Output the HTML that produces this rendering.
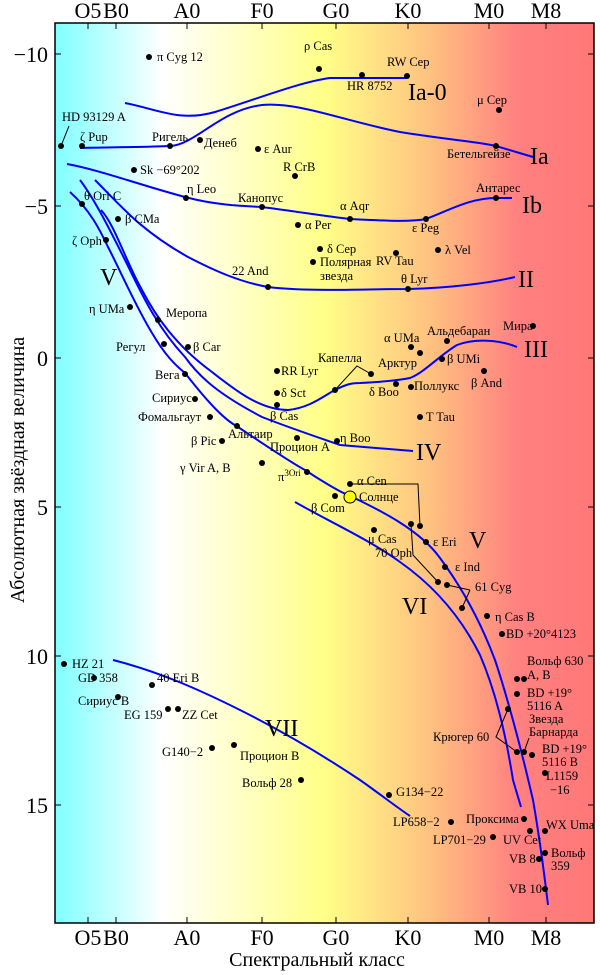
<!DOCTYPE html>
<html><head><meta charset="utf-8"><style>
html,body{margin:0;padding:0;background:#fff}
svg{display:block}
text{font-family:"Liberation Serif",serif;fill:#000}
.s{font-size:12.5px}
.L{font-size:24px}
.t{font-size:22px}
.a{font-size:20px}
</style></head><body>
<svg width="600" height="975" viewBox="0 0 600 975" xmlns="http://www.w3.org/2000/svg">
<defs>
<linearGradient id="g" x1="55" x2="594" y1="0" y2="0" gradientUnits="userSpaceOnUse">
<stop offset="0" stop-color="#80ffff"/>
<stop offset="0.2" stop-color="#ffffff"/>
<stop offset="0.5" stop-color="#ffff88"/>
<stop offset="0.7" stop-color="#ffc080"/>
<stop offset="0.86" stop-color="#ff8080"/>
<stop offset="1" stop-color="#ff7878"/>
</linearGradient>
</defs>
<rect x="55" y="23" width="539" height="900" fill="url(#g)"/>
<g fill="none" stroke="#0000ff" stroke-width="2">
<path d="M125,103 C160,110 180,122 215,112 C260,98 300,82 330,78 L407,78"/>
<path d="M80,148 C120,147 150,147 170,146 C195,145 220,110 262,105 C300,102 340,120 400,132 C450,140 480,142 496,146 L533,157"/>
<path d="M67,164 C100,170 140,185 185,197 C215,205 240,206 262,207 C300,212 330,217 350,219 C390,221 410,222 426,219 C450,210 470,198 496,198 L512,198"/>
<path d="M95,180 C120,205 140,230 188,257 C215,271 240,282 268,287 C310,292 360,289 408,289 C450,288 490,283 515,277"/>
<path d="M101,210 C115,225 125,260 142,290 C155,315 175,345 212,372 C235,390 260,410 288,410 C310,408 325,395 335,390 C345,385 350,383 360,383 C380,382 400,380 410,378 C425,372 440,355 457,345 C475,338 500,340 517,347"/>
<path d="M80,180 C95,200 110,230 125,260 C140,290 155,325 185,357 C200,378 220,395 262,417 C290,428 320,438 340,445 L413,451"/>
<path d="M70,192 C90,210 100,230 108,247 C120,270 135,305 152,333 C165,355 175,365 185,373 C210,405 225,420 238,427 C265,445 290,462 305,470 C320,480 340,492 348,495 C380,510 420,530 440,558 C460,585 480,620 495,660 C510,705 525,765 533,800 C540,840 545,880 548,905"/>
<path d="M295,502 C330,522 370,540 400,562 C440,590 465,625 480,655 C495,690 505,730 513,780 L521,807"/>
<path d="M113,660 C160,672 200,690 240,710 C290,735 330,760 360,780 C380,794 395,806 410,816"/>
</g>
<g fill="none" stroke="#000" stroke-width="1">
<path d="M61,146 L69,126"/>
<path d="M335,390 L357,366 L371,374"/>
<path d="M350,484 L418,484 L420,526"/>
<path d="M411,524 L413,555 L438,582"/>
<path d="M447,585 L470,590 M470,590 L462,608"/>
<path d="M508,709 L496,737 L517,752 M524,752 L529,738"/>
<rect x="55" y="23" width="539" height="900" stroke-width="1.5"/>
<path d="M88,23v6M116,23v6M187,23v6M262,23v6M336,23v6M408,23v6M489,23v6M546,23v6M88,923v-6M116,923v-6M187,923v-6M262,923v-6M336,923v-6M408,923v-6M489,923v-6M546,923v-6"/>
<path d="M55,54h6M55,206h6M55,358h6M55,507h6M55,656h6M55,805h6M594,54h-6M594,206h-6M594,358h-6M594,507h-6M594,656h-6M594,805h-6"/>
</g>
<g fill="#000">
<circle cx="149" cy="57" r="3"/><circle cx="319" cy="69" r="3"/><circle cx="362" cy="75" r="3"/><circle cx="407" cy="76" r="3"/>
<circle cx="499" cy="110" r="3"/><circle cx="61" cy="146" r="3"/><circle cx="82" cy="146" r="3"/><circle cx="170" cy="146" r="3"/>
<circle cx="200" cy="140" r="3"/><circle cx="258" cy="149" r="3"/><circle cx="295" cy="176" r="3"/><circle cx="496" cy="146" r="3"/>
<circle cx="134" cy="170" r="3"/><circle cx="186" cy="198" r="3"/><circle cx="262" cy="207" r="3"/><circle cx="350" cy="219" r="3"/>
<circle cx="426" cy="219" r="3"/><circle cx="496" cy="198" r="3"/><circle cx="82" cy="204" r="3"/><circle cx="118" cy="219" r="3"/>
<circle cx="106" cy="240" r="3"/><circle cx="298" cy="225" r="3"/><circle cx="320" cy="249" r="3"/><circle cx="313" cy="262" r="3"/>
<circle cx="396" cy="253" r="3"/><circle cx="438" cy="250" r="3"/><circle cx="268" cy="287" r="3"/><circle cx="408" cy="289" r="3"/>
<circle cx="130" cy="307" r="3"/><circle cx="158" cy="320" r="3"/><circle cx="164" cy="344" r="3"/><circle cx="188" cy="347" r="3"/>
<circle cx="411" cy="347" r="3"/><circle cx="420" cy="353" r="3"/><circle cx="447" cy="341" r="3"/><circle cx="533" cy="326" r="3"/>
<circle cx="442" cy="359" r="3"/><circle cx="484" cy="371" r="3"/><circle cx="185" cy="374" r="3"/><circle cx="277" cy="371" r="3"/>
<circle cx="335" cy="390" r="3"/><circle cx="371" cy="374" r="3"/><circle cx="396" cy="384" r="3"/><circle cx="411" cy="387" r="3"/>
<circle cx="277" cy="393" r="3"/><circle cx="195" cy="399" r="3"/><circle cx="210" cy="417" r="3"/><circle cx="277" cy="405" r="3"/>
<circle cx="420" cy="417" r="3"/><circle cx="237" cy="426" r="3"/><circle cx="222" cy="441" r="3"/><circle cx="297" cy="438" r="3"/>
<circle cx="337" cy="441" r="3"/><circle cx="262" cy="463" r="3"/><circle cx="307" cy="472" r="3"/><circle cx="350" cy="484" r="3"/>
<circle cx="335" cy="496" r="3"/><circle cx="374" cy="530" r="3"/><circle cx="411" cy="524" r="3"/><circle cx="420" cy="526" r="3"/>
<circle cx="426" cy="542" r="3"/><circle cx="445" cy="567" r="3"/><circle cx="438" cy="582" r="3"/><circle cx="447" cy="585" r="3"/>
<circle cx="462" cy="608" r="3"/><circle cx="487" cy="616" r="3"/><circle cx="502" cy="634" r="3"/>
<circle cx="64" cy="664" r="3"/><circle cx="94" cy="678" r="3"/><circle cx="152" cy="685" r="3"/><circle cx="118" cy="697" r="3"/>
<circle cx="168" cy="709" r="3"/><circle cx="178" cy="709" r="3"/><circle cx="212" cy="748" r="3"/><circle cx="234" cy="745" r="3"/>
<circle cx="301" cy="780" r="3"/><circle cx="389" cy="795" r="3"/><circle cx="451" cy="822" r="3"/><circle cx="493" cy="837" r="3"/>
<circle cx="524" cy="819" r="3"/><circle cx="530" cy="831" r="3"/><circle cx="545" cy="831" r="3"/><circle cx="545" cy="853" r="3"/>
<circle cx="539" cy="859" r="3"/><circle cx="545" cy="889" r="3"/><circle cx="517" cy="679" r="3"/><circle cx="524" cy="679" r="3"/>
<circle cx="517" cy="694" r="3"/><circle cx="508" cy="709" r="3"/><circle cx="517" cy="752" r="3"/><circle cx="524" cy="752" r="3"/>
<circle cx="532" cy="755" r="3"/><circle cx="545" cy="773" r="3"/>
</g>
<circle cx="350" cy="497" r="6" fill="#ffff00" stroke="#000" stroke-width="1"/>
<g class="s">
<text x="157" y="61">π Cyg 12</text><text x="304" y="50">ρ Cas</text><text x="387" y="66">RW Cep</text><text x="347" y="90">HR 8752</text>
<text x="477" y="104">μ Cep</text><text x="62" y="121">HD 93129 A</text><text x="80" y="141">ζ Pup</text><text x="152" y="141">Ригель</text>
<text x="204" y="147">Денеб</text><text x="264" y="153">ε Aur</text><text x="283" y="171">R CrB</text><text x="447" y="158">Бетельгейзе</text>
<text x="140" y="174">Sk −69°202</text><text x="187" y="193">η Leo</text><text x="238" y="202">Канопус</text><text x="340" y="210">α Aqr</text>
<text x="412" y="232">ε Peg</text><text x="476" y="192">Антарес</text><text x="84" y="200">θ Ori C</text><text x="125" y="223">β CMa</text>
<text x="72" y="245">ζ Oph</text><text x="305" y="229">α Per</text><text x="327" y="253">δ Cep</text><text x="320" y="266">Полярная</text><text x="320" y="280">звезда</text>
<text x="376" y="265">RV Tau</text><text x="445" y="254">λ Vel</text><text x="232" y="275">22 And</text><text x="401" y="283">θ Lyr</text>
<text x="89" y="313">η UMa</text><text x="166" y="317">Меропа</text><text x="116" y="351">Регул</text><text x="193" y="351">β Car</text>
<text x="384" y="342">α UMa</text><text x="427" y="335">Альдебаран</text><text x="503" y="330">Мира</text><text x="447" y="363">β UMi</text>
<text x="471" y="387">β And</text><text x="155" y="379">Вега</text><text x="281" y="375">RR Lyr</text><text x="318" y="362">Капелла</text>
<text x="378" y="367">Арктур</text><text x="369" y="396">δ Boo</text><text x="414" y="390">Поллукс</text><text x="281" y="397">δ Sct</text>
<text x="152" y="402">Сириус</text><text x="138" y="421">Фомальгаут</text><text x="270" y="420">β Cas</text><text x="426" y="421">T Tau</text>
<text x="228" y="438">Альтаир</text><text x="191" y="445">β Pic</text><text x="270" y="451">Процион A</text><text x="340" y="442">η Boo</text>
<text x="180" y="472">γ Vir A, B</text><text x="278" y="481">π<tspan font-size="9" dy="-5">3Ori</tspan></text><text x="357" y="485">α Cen</text>
<text x="359" y="501">Солнце</text><text x="311" y="512">β Com</text><text x="368" y="543">μ Cas</text><text x="375" y="557">70 Oph</text>
<text x="433" y="546">ε Eri</text><text x="455" y="571">ε Ind</text><text x="475" y="591">61 Cyg</text><text x="495" y="621">η Cas B</text>
<text x="506" y="638">BD +20°4123</text><text x="72" y="668">HZ 21</text><text x="78" y="682">GD 358</text><text x="157" y="682">40 Eri B</text>
<text x="78" y="705">Сириус B</text><text x="124" y="719">EG 159</text><text x="182" y="719">ZZ Cet</text><text x="162" y="756">G140−2</text>
<text x="240" y="760">Процион B</text><text x="242" y="787">Вольф 28</text><text x="396" y="796">G134−22</text><text x="393" y="826">LP658−2</text>
<text x="433" y="844">LP701−29</text><text x="466" y="823">Проксима</text><text x="503" y="844">UV Cet</text><text x="546" y="829">WX Uma</text>
<text x="551" y="857">Вольф</text><text x="551" y="870">359</text><text x="509" y="863">VB 8</text><text x="509" y="893">VB 10</text>
<text x="527" y="665">Вольф 630</text><text x="527" y="679">A, B</text><text x="527" y="697">BD +19°</text><text x="527" y="710">5116 A</text>
<text x="529" y="723">Звезда</text><text x="529" y="736">Барнарда</text><text x="433" y="741">Крюгер 60</text>
<text x="542" y="753">BD +19°</text><text x="542" y="766">5116 B</text><text x="546" y="780">L1159</text><text x="550" y="794">−16</text>
</g>
<g class="L">
<text x="408" y="100">Ia-0</text><text x="530" y="164">Ia</text><text x="522" y="213">Ib</text><text x="518" y="287">II</text>
<text x="524" y="357">III</text><text x="416" y="460">IV</text><text x="100" y="285">V</text><text x="469" y="548">V</text>
<text x="402" y="614">VI</text><text x="265" y="736">VII</text>
</g>
<g class="t" text-anchor="middle">
<text x="88" y="18">O5</text><text x="116" y="18">B0</text><text x="187" y="18">A0</text><text x="262" y="18">F0</text>
<text x="336" y="18">G0</text><text x="408" y="18">K0</text><text x="489" y="18">M0</text><text x="546" y="18">M8</text>
<text x="88" y="945">O5</text><text x="116" y="945">B0</text><text x="187" y="945">A0</text><text x="262" y="945">F0</text>
<text x="336" y="945">G0</text><text x="408" y="945">K0</text><text x="489" y="945">M0</text><text x="546" y="945">M8</text>
</g>
<g class="a" text-anchor="middle">
<text x="317" y="966">Спектральный класс</text>
<text transform="translate(24,470) rotate(-90)">Абсолютная звёздная величина</text>
</g>
<g class="t" text-anchor="end">
<text x="48" y="62">−10</text><text x="48" y="214">−5</text><text x="48" y="366">0</text><text x="48" y="515">5</text>
<text x="48" y="664">10</text><text x="48" y="813">15</text>
</g>
</svg>
</body></html>
